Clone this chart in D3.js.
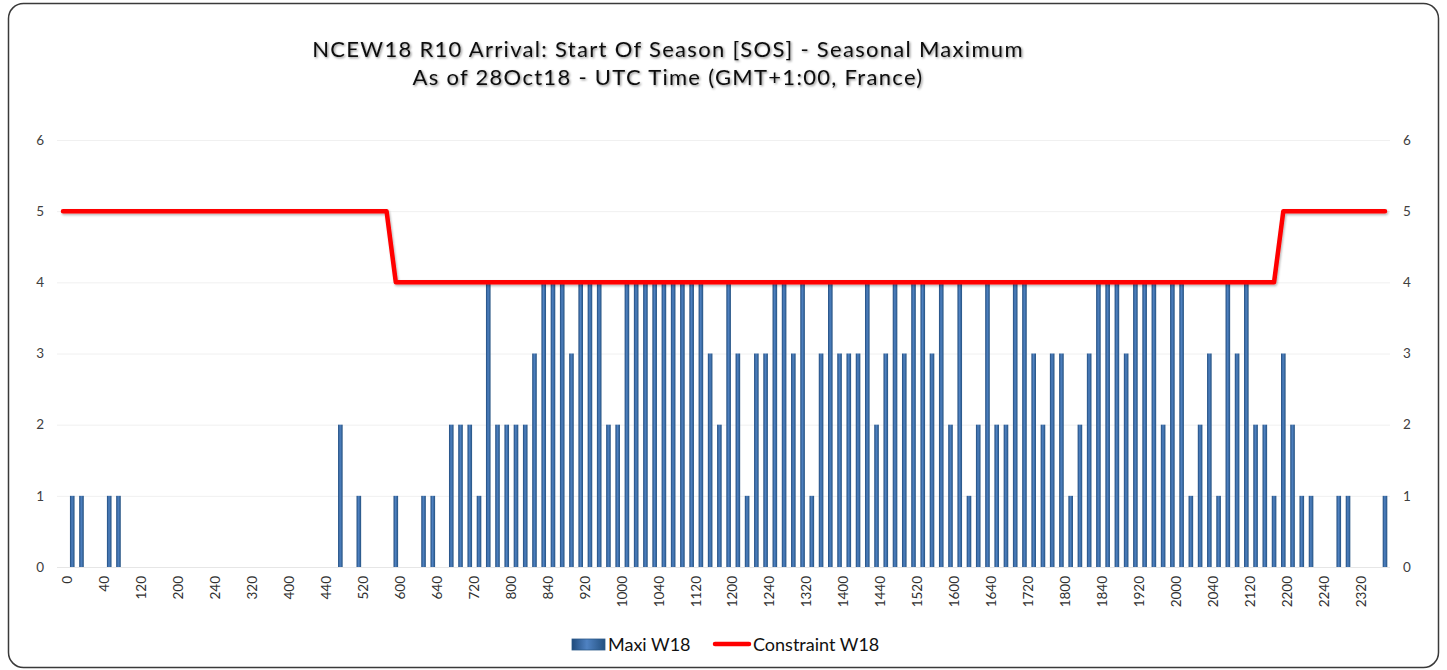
<!DOCTYPE html>
<html>
<head>
<meta charset="utf-8">
<script src="https://cdn.jsdelivr.net/npm/d3@7"></script>
<style>
    body { margin: 0; background: #ffffff; }
    text { font-family: Lato, "Open Sans", sans-serif; }
</style>
</head>
<body>
<div class="chart"></div>
<script>
//Combo chart: seasonal maximum bars with constraint line

//Data (10 minute slots, HHMM)
var timeSlots = [
    "0", "10", "20", "30", "40", "50",
    "100", "110", "120", "130", "140", "150",
    "200", "210", "220", "230", "240", "250",
    "300", "310", "320", "330", "340", "350",
    "400", "410", "420", "430", "440", "450",
    "500", "510", "520", "530", "540", "550",
    "600", "610", "620", "630", "640", "650",
    "700", "710", "720", "730", "740", "750",
    "800", "810", "820", "830", "840", "850",
    "900", "910", "920", "930", "940", "950",
    "1000", "1010", "1020", "1030", "1040", "1050",
    "1100", "1110", "1120", "1130", "1140", "1150",
    "1200", "1210", "1220", "1230", "1240", "1250",
    "1300", "1310", "1320", "1330", "1340", "1350",
    "1400", "1410", "1420", "1430", "1440", "1450",
    "1500", "1510", "1520", "1530", "1540", "1550",
    "1600", "1610", "1620", "1630", "1640", "1650",
    "1700", "1710", "1720", "1730", "1740", "1750",
    "1800", "1810", "1820", "1830", "1840", "1850",
    "1900", "1910", "1920", "1930", "1940", "1950",
    "2000", "2010", "2020", "2030", "2040", "2050",
    "2100", "2110", "2120", "2130", "2140", "2150",
    "2200", "2210", "2220", "2230", "2240", "2250",
    "2300", "2310", "2320", "2330", "2340", "2350"
];

var maxiW18 = [
    0, 1, 1, 0, 0, 1, 1, 0, 0, 0, 0, 0,
    0, 0, 0, 0, 0, 0, 0, 0, 0, 0, 0, 0,
    0, 0, 0, 0, 0, 0, 2, 0, 1, 0, 0, 0,
    1, 0, 0, 1, 1, 0, 2, 2, 2, 1, 4, 2,
    2, 2, 2, 3, 4, 4, 4, 3, 4, 4, 4, 2,
    2, 4, 4, 4, 4, 4, 4, 4, 4, 4, 3, 2,
    4, 3, 1, 3, 3, 4, 4, 3, 4, 1, 3, 4,
    3, 3, 3, 4, 2, 3, 4, 3, 4, 4, 3, 4,
    2, 4, 1, 2, 4, 2, 2, 4, 4, 3, 2, 3,
    3, 1, 2, 3, 4, 4, 4, 3, 4, 4, 4, 2,
    4, 4, 1, 2, 3, 1, 4, 3, 4, 2, 2, 1,
    3, 2, 1, 1, 0, 0, 1, 1, 0, 0, 0, 1
];

var constraintW18 = [
    5, 5, 5, 5, 5, 5, 5, 5, 5, 5, 5, 5,
    5, 5, 5, 5, 5, 5, 5, 5, 5, 5, 5, 5,
    5, 5, 5, 5, 5, 5, 5, 5, 5, 5, 5, 5,
    4, 4, 4, 4, 4, 4, 4, 4, 4, 4, 4, 4,
    4, 4, 4, 4, 4, 4, 4, 4, 4, 4, 4, 4,
    4, 4, 4, 4, 4, 4, 4, 4, 4, 4, 4, 4,
    4, 4, 4, 4, 4, 4, 4, 4, 4, 4, 4, 4,
    4, 4, 4, 4, 4, 4, 4, 4, 4, 4, 4, 4,
    4, 4, 4, 4, 4, 4, 4, 4, 4, 4, 4, 4,
    4, 4, 4, 4, 4, 4, 4, 4, 4, 4, 4, 4,
    4, 4, 4, 4, 4, 4, 4, 4, 4, 4, 4, 4,
    5, 5, 5, 5, 5, 5, 5, 5, 5, 5, 5, 5
];

var yTicks = [0, 1, 2, 3, 4, 5, 6];

var titleLines = [
    "NCEW18 R10 Arrival: Start Of Season [SOS] - Seasonal Maximum",
    "As of 28Oct18 - UTC Time (GMT+1:00, France)"
];

//Set size and margins for chart
var svgwidth = 1447;
var svgheight = 670;

var margin = {
    top: 140,
    right: 62,
    bottom: 103,
    left: 63
};

var width = svgwidth - margin.left - margin.right;
var height = svgheight - margin.top - margin.bottom;

//Create svg wrapper
var svg = d3.select(".chart")
            .append("svg")
            .attr("width", svgwidth)
            .attr("height", svgheight);

var defs = svg.append("defs");

var barGrad = defs.append("linearGradient")
    .attr("id", "barGrad")
    .attr("x1", "0").attr("x2", "1")
    .attr("y1", "0").attr("y2", "0");
barGrad.append("stop").attr("offset", "0%").attr("stop-color", "#1f4a7c");
barGrad.append("stop").attr("offset", "45%").attr("stop-color", "#4f82c2");
barGrad.append("stop").attr("offset", "100%").attr("stop-color", "#23507f");

var shadow = defs.append("filter")
    .attr("id", "shadow")
    .attr("x", "-10%").attr("y", "-30%")
    .attr("width", "120%").attr("height", "160%");
shadow.append("feDropShadow")
    .attr("dx", 1.2).attr("dy", 1.2)
    .attr("stdDeviation", 0.9)
    .attr("flood-color", "#000000")
    .attr("flood-opacity", 0.45);

var lineShadow = defs.append("filter")
    .attr("id", "lineShadow")
    .attr("x", "-5%").attr("y", "-50%")
    .attr("width", "110%").attr("height", "200%");
lineShadow.append("feDropShadow")
    .attr("dx", 1).attr("dy", 1.5)
    .attr("stdDeviation", 1)
    .attr("flood-color", "#000000")
    .attr("flood-opacity", 0.3);

//Chart border
svg.append("rect")
    .attr("x", 8.5)
    .attr("y", 3.5)
    .attr("width", 1430)
    .attr("height", 664)
    .attr("rx", 15)
    .attr("fill", "#ffffff")
    .attr("stroke", "#3a3a3a")
    .attr("stroke-width", 1.5);

//Title
svg.selectAll(".title")
    .data(titleLines)
    .enter()
    .append("text")
    .attr("class", "title")
    .attr("x", 668)
    .attr("y", (d, i) => 57 + i * 28)
    .attr("text-anchor", "middle")
    .attr("font-size", "22px")
    .attr("letter-spacing", "1.3px")
    .attr("fill", "#111111")
    .attr("filter", "url(#shadow)")
    .text(d => d);

var chartGroup = svg.append("g")
    .attr("transform", `translate(${margin.left}, ${margin.top})`);

//Scales
var xScale = d3.scalePoint()
    .domain(timeSlots)
    .range([0, width]);

var yScale = d3.scaleLinear()
    .domain([0, 6])
    .range([height, 0]);

//Gridlines
chartGroup.selectAll(".grid")
    .data(yTicks)
    .enter()
    .append("line")
    .attr("x1", -6)
    .attr("x2", width + 5)
    .attr("y1", d => yScale(d) + 0.5)
    .attr("y2", d => yScale(d) + 0.5)
    .attr("stroke", d => d === 0 ? "#e6e6e6" : "#f0f0f0")
    .attr("stroke-width", 1);

//Axes
var leftAxis = d3.axisLeft(yScale).tickValues(yTicks).tickFormat(d3.format("d"))
    .tickSize(0).tickPadding(19);
var rightAxis = d3.axisRight(yScale).tickValues(yTicks).tickFormat(d3.format("d"))
    .tickSize(0).tickPadding(18);
var bottomAxis = d3.axisBottom(xScale)
    .tickValues(timeSlots.filter((d, i) => i % 4 === 0))
    .tickSize(0);

var leftG = chartGroup.append("g").call(leftAxis);
var rightG = chartGroup.append("g")
    .attr("transform", `translate(${width}, 0)`)
    .call(rightAxis);

[leftG, rightG].forEach(function(g) {
    g.select(".domain").remove();
    g.selectAll("text")
        .attr("font-size", "13.5px")
        .attr("font-family", "Lato, sans-serif")
        .attr("fill", "#404040");
});

var xG = chartGroup.append("g")
    .attr("transform", `translate(0, ${height})`)
    .call(bottomAxis);
xG.select(".domain").remove();
xG.selectAll("text")
    .attr("font-size", "13.5px")
    .attr("font-family", "Lato, sans-serif")
    .attr("fill", "#303030")
    .attr("text-anchor", "end")
    .attr("transform", "rotate(-90)")
    .attr("x", -9)
    .attr("y", 0)
    .attr("dy", "0.62em");

//Bars
var barWidth = 4.6;
chartGroup.selectAll(".bar")
    .data(maxiW18)
    .enter()
    .append("rect")
    .attr("class", "bar")
    .attr("x", (d, i) => xScale(timeSlots[i]) - barWidth / 2)
    .attr("y", d => yScale(d))
    .attr("width", barWidth)
    .attr("height", d => height - yScale(d))
    .attr("fill", "url(#barGrad)");

//Constraint line
var line = d3.line()
    .x((d, i) => xScale(timeSlots[i]))
    .y(d => yScale(d));

chartGroup.append("path")
    .datum(constraintW18)
    .attr("d", line)
    .attr("fill", "none")
    .attr("stroke", "#ff0000")
    .attr("stroke-width", 4.5)
    .attr("stroke-linecap", "round")
    .attr("stroke-linejoin", "round")
    .attr("filter", "url(#lineShadow)");

//Legend
var legend = svg.append("g");

legend.append("rect")
    .attr("x", 572)
    .attr("y", 639)
    .attr("width", 33)
    .attr("height", 11)
    .attr("fill", "url(#barGrad)")
    .attr("stroke", "#2a5788")
    .attr("stroke-width", 0.8);

legend.append("text")
    .attr("x", 608)
    .attr("y", 651)
    .attr("font-size", "18px")
    .attr("fill", "#111111")
    .text("Maxi W18");

legend.append("line")
    .attr("x1", 715)
    .attr("x2", 749)
    .attr("y1", 644)
    .attr("y2", 644)
    .attr("stroke", "#ff0000")
    .attr("stroke-width", 4.5)
    .attr("stroke-linecap", "round");

legend.append("text")
    .attr("x", 753)
    .attr("y", 651)
    .attr("font-size", "18px")
    .attr("fill", "#111111")
    .text("Constraint W18");
</script>
</body>
</html>
